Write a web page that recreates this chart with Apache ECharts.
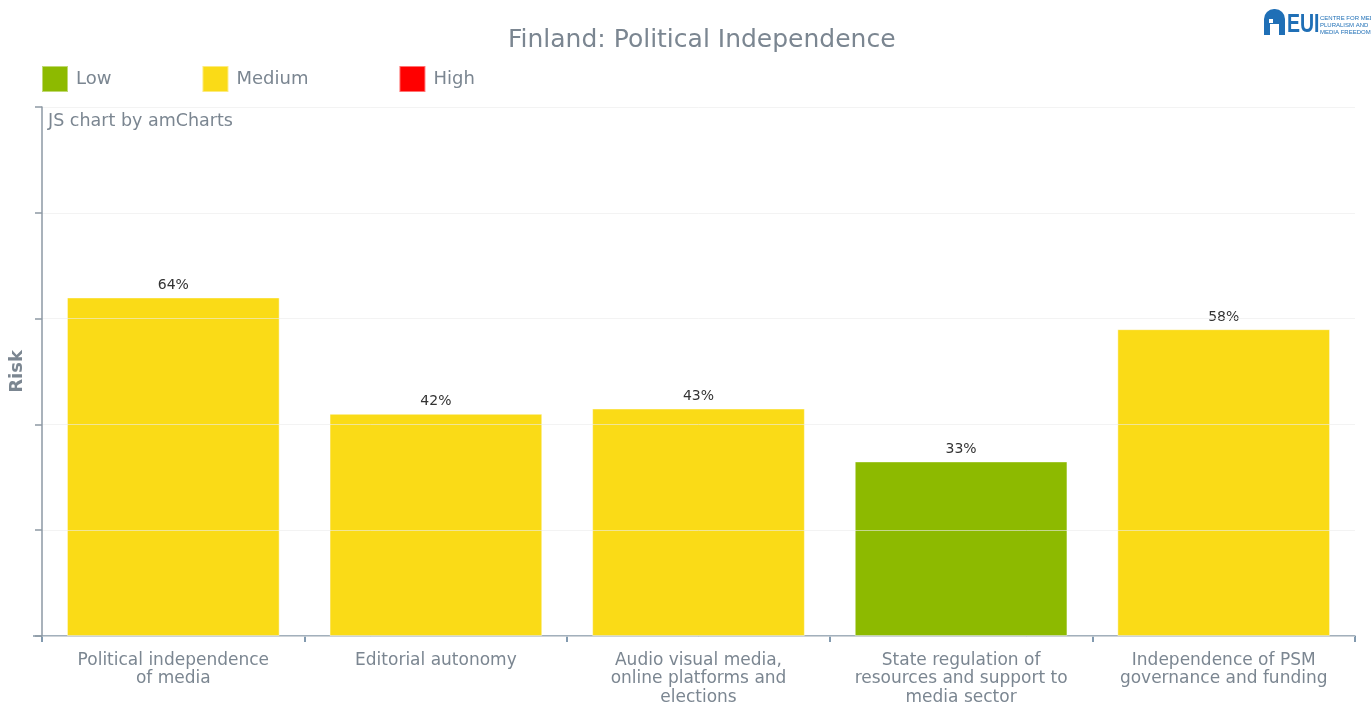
<!DOCTYPE html>
<html>
<head>
<meta charset="utf-8">
<script src="https://cdn.jsdelivr.net/npm/echarts@6/dist/echarts.min.js"></script>
<style>
html,body{margin:0;padding:0;background:#fff;}
#chart{width:1371px;height:704px;}
</style>
</head>
<body>
<div id="chart"></div>
<script>
const categories = [
  'Political independence\nof media',
  'Editorial autonomy',
  'Audio visual media,\nonline platforms and\nelections',
  'State regulation of\nresources and support to\nmedia sector',
  'Independence of PSM\ngovernance and funding'
];
const values = [64, 42, 43, 33, 58];
const riskLevels = ['Medium', 'Medium', 'Medium', 'Low', 'Medium'];
const levelNames = ['Low', 'Medium', 'High'];
const levelColors = {Low: '#8DBA00', Medium: '#FADB17', High: '#FF0000'};
const yTicks = [0, 20, 40, 60, 80, 100];

const FONT = "'DejaVu Sans', Verdana, sans-serif";
const GRAY = '#7b8691';

const series = levelNames.map(function (lvl) {
  return {
    name: lvl,
    type: 'bar',
    stack: 'risk',
    barCategoryGap: '19%',
    itemStyle: {color: levelColors[lvl], borderColor: 'rgba(255,255,255,0.45)', borderWidth: 1},
    label: {
      show: true, position: 'top', distance: 5,
      color: '#333', fontFamily: FONT, fontSize: 14,
      formatter: function (p) { return p.value + '%'; }
    },
    data: values.map(function (v, i) { return riskLevels[i] === lvl ? v : null; })
  };
});

const chart = echarts.init(document.getElementById('chart'), null, {renderer: 'canvas'});
chart.setOption({
  animation: false,
  backgroundColor: '#fff',
  title: {
    text: 'Finland: Political Independence',
    left: 503, top: 23,
    textStyle: {fontFamily: FONT, fontSize: 25, fontWeight: 'normal', color: GRAY}
  },
  legend: {
    data: levelNames,
    left: 36, top: 60,
    itemWidth: 26, itemHeight: 26, itemGap: 90,
    icon: 'rect',
    textStyle: {fontFamily: FONT, fontSize: 18, color: GRAY, padding: [0, 0, 0, 3]},
    selectedMode: false
  },
  grid: {left: 42, right: 16, top: 107, bottom: 68, containLabel: false, outerBoundsMode: 'none'},
  xAxis: {
    type: 'category',
    data: categories,
    axisLine: {lineStyle: {color: '#8496a6', width: 1.5}},
    axisTick: {show: true, length: 6, lineStyle: {color: '#5a7a95', width: 1.5}},
    axisLabel: {
      fontFamily: FONT, fontSize: 17, color: GRAY, lineHeight: 18.5,
      margin: 15, interval: 0, align: 'center'
    },
    splitLine: {show: false}
  },
  yAxis: {
    type: 'value',
    min: yTicks[0], max: yTicks[yTicks.length - 1], interval: 20,
    name: 'Risk',
    nameLocation: 'middle',
    nameGap: 16,
    nameRotate: 90,
    nameTextStyle: {fontFamily: FONT, fontSize: 18, fontWeight: 'bold', color: GRAY},
    axisLine: {show: true, lineStyle: {color: '#8d99a4', width: 1.5}},
    axisTick: {show: true, length: 7, lineStyle: {color: '#8d99a4', width: 1.5}},
    axisLabel: {show: false},
    splitLine: {show: true, lineStyle: {color: 'rgba(235,235,235,0.6)', width: 1}},
    z: 3
  },
  graphic: [
    {
      type: 'text', left: 48, top: 112,
      style: {text: 'JS chart by amCharts', fontFamily: FONT, fontSize: 17.5, fill: GRAY}
    },
    {
      type: 'line', shape: {x1: 33, y1: 636, x2: 42, y2: 636},
      style: {stroke: '#8496a6', lineWidth: 1.5}
    },
    {
      type: 'group', left: 1264, top: 9,
      children: [
        {type: 'rect', shape: {x: 0, y: 0, width: 21, height: 26, r: [10, 10, 0, 0]}, style: {fill: '#1f6fb6'}},
        {type: 'rect', shape: {x: 5, y: 10, width: 4, height: 4}, style: {fill: '#fff'}},
        {type: 'rect', shape: {x: 6, y: 15, width: 9, height: 11}, style: {fill: '#fff'}},
        {type: 'text', x: 23, y: 3, scaleX: 0.75, style: {text: 'EUI', fontFamily: 'Liberation Sans', fontWeight: 'bold', fontSize: 26, fill: '#1f6fb6'}},
        {type: 'text', x: 56, y: 6, style: {text: 'CENTRE FOR MEDIA\nPLURALISM AND\nMEDIA FREEDOM', fontFamily: 'Liberation Sans', fontSize: 6, lineHeight: 7, fill: '#1f6fb6'}}
      ]
    }
  ],
  series: series
});
</script>
</body>
</html>
